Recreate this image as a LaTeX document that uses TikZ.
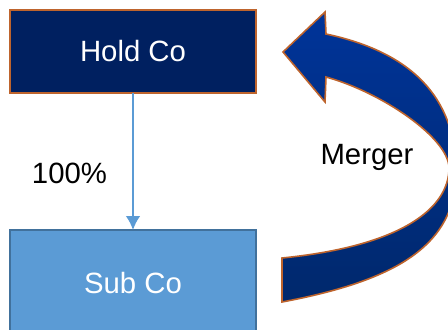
\documentclass[tikz,border=0pt]{standalone}
\usepackage{fontspec}
\setmainfont{Liberation Sans}
\usepackage{tikz}
\usetikzlibrary{shapes,positioning,calc}
\usetikzlibrary{arrows.meta}
\definecolor{navy}{RGB}{0,32,96}
\definecolor{skyblue}{RGB}{91,155,213}
\definecolor{steelblue}{RGB}{65,113,156}
\definecolor{rust}{RGB}{190,100,45}
\definecolor{mergertop}{RGB}{0,52,153}
\definecolor{mergerbottom}{RGB}{0,40,108}
\tikzstyle{arrow} = [line width=1.5pt,skyblue,-{Latex[length=10.5pt,width=11pt]}]

\begin{document}
\begin{tikzpicture}[x=0.75pt,y=0.75pt,
	company/.style={rectangle, minimum width=184.5pt, inner sep=0pt, outer sep=0pt, text=white, font=\fontsize{22}{26}\selectfont},
	label/.style={font=\fontsize{22}{26}\selectfont, inner sep=0pt, text=black}]
		
			\useasboundingbox (0,0) rectangle (448,-329);
			
			% COMPANIES
			
			\node [company, minimum height=62.25pt, fill=navy, draw=rust, line width=1.4pt] (hold) at (133,-51.5) {Hold Co};
			
			\node [company, minimum height=79.5pt, fill=skyblue, draw=steelblue, line width=1.5pt, below=102.75pt of hold] (sub) {Sub Co};
			
			% OWNERSHIP
			
			\draw [arrow] (hold) -- node [label, pos=0.59, left=18.75pt] (pct) {100\%} (sub);
			
			% MERGER
			
			\path [top color=mergertop, bottom color=mergerbottom, draw=rust, line width=1.2pt, line join=miter]
				(283,-52) coordinate (tip) -- (325,-12) -- (326,-34)
				.. controls (411,-52) and (456,-97) .. (456,-172)
				.. controls (456,-245) and (397,-280.4) .. (282,-302)
				-- (282,-258)
				.. controls (402,-246) and (449,-208) .. (449,-168)
				.. controls (449,-138) and (381,-92) .. (326,-77)
				-- (325,-102) -- cycle;
			
			\node [label] (merger) at (367,-157) {Merger};
			
		\end{tikzpicture}
\end{document}
